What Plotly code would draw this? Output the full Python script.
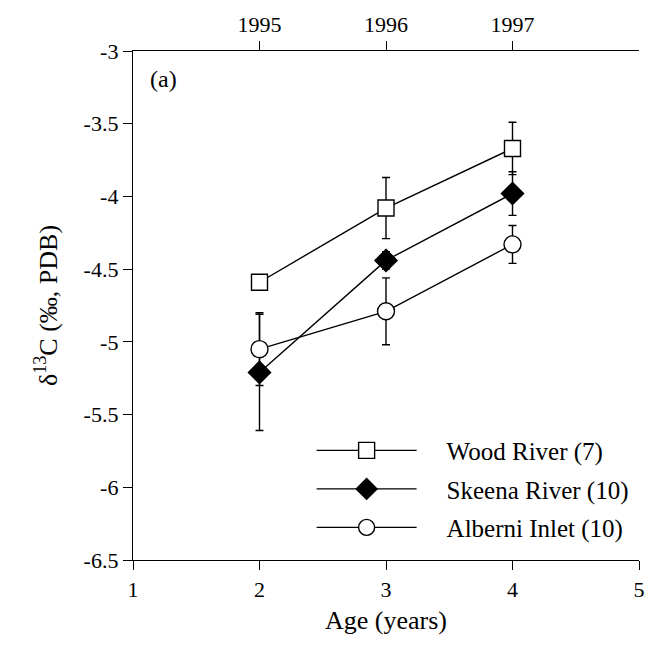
import plotly.graph_objects as go

age = [2, 3, 4]
years = ["1995", "1996", "1997"]
wood_y = [-4.59, -4.08, -3.67]
wood_err = [0.05, 0.21, 0.18]
skeena_y = [-5.21, -4.44, -3.98]
skeena_err = [0.40, 0.06, 0.15]
alberni_y = [-5.05, -4.79, -4.33]
alberni_err = [0.25, 0.23, 0.13]

FONT = "Liberation Serif"
PAD = "\u00a0" * 4
fig = go.Figure()

def add(name, y, err, symbol, fill, size):
    fig.add_trace(go.Scatter(
        x=age, y=y, name=PAD + name, mode="lines+markers", legendgroup=name,
        line=dict(color="black", width=1.4),
        marker=dict(symbol=symbol, size=size,
                    color=fill, line=dict(color="black", width=1.4)),
        error_y=dict(type="data", array=err, visible=True, color="black",
                     thickness=1.4, width=4),
    ))

add("Wood River (7)", wood_y, wood_err, "square", "white", 16)
add("Skeena River (10)", skeena_y, skeena_err, "diamond", "black", 17)
add("Alberni Inlet (10)", alberni_y, alberni_err, "circle", "white", 17)

# invisible trace for top axis
fig.add_trace(go.Scatter(x=age, y=wood_y, xaxis="x2", mode="markers",
                         marker=dict(opacity=0), showlegend=False, hoverinfo="skip"))

axis_common = dict(showgrid=False, zeroline=False, linecolor="black", linewidth=1.4,
                   ticks="outside", ticklen=9, tickwidth=1.4, tickcolor="black",
                   tickfont=dict(family=FONT, size=22, color="black"))

fig.update_layout(
    width=657, height=649,
    margin=dict(l=133, r=16, t=49, b=89),
    plot_bgcolor="white", paper_bgcolor="white",
    font=dict(family=FONT, color="black"),
    xaxis=dict(range=[1, 5], tickvals=[1, 2, 3, 4, 5],
               title=dict(text="Age (years)", font=dict(family=FONT, size=26), standoff=10),
               **axis_common),
    xaxis2=dict(range=[1, 5], overlaying="x", side="top", tickvals=age, ticktext=years,
                **axis_common),
    yaxis=dict(range=[-6.5, -3], tickvals=[-3, -3.5, -4, -4.5, -5, -5.5, -6, -6.5],
               ticktext=["-3", "-3.5", "-4", "-4.5", "-5", "-5.5", "-6", "-6.5"],
               title=dict(text="δ<sup>13</sup>C (‰, PDB)", font=dict(family=FONT, size=26), standoff=18),
               **axis_common),
    yaxis2=dict(range=[-6.5, -3], overlaying="y", side="right", showticklabels=False,
                ticks="", showline=True, linecolor="black", linewidth=1.4, showgrid=False,
                zeroline=False),
    legend=dict(x=0.353, y=0.26, xanchor="left", yanchor="top",
                font=dict(family=FONT, size=25, color="black"),
                bgcolor="rgba(0,0,0,0)", itemwidth=100, traceorder="grouped",
                tracegroupgap=3),
    showlegend=True,
)
fig.add_annotation(text="(a)", x=0.03, y=0.975, xref="paper", yref="paper",
                   xanchor="left", yanchor="top", showarrow=False,
                   font=dict(family=FONT, size=24, color="black"))

fig.write_html("out.html")
